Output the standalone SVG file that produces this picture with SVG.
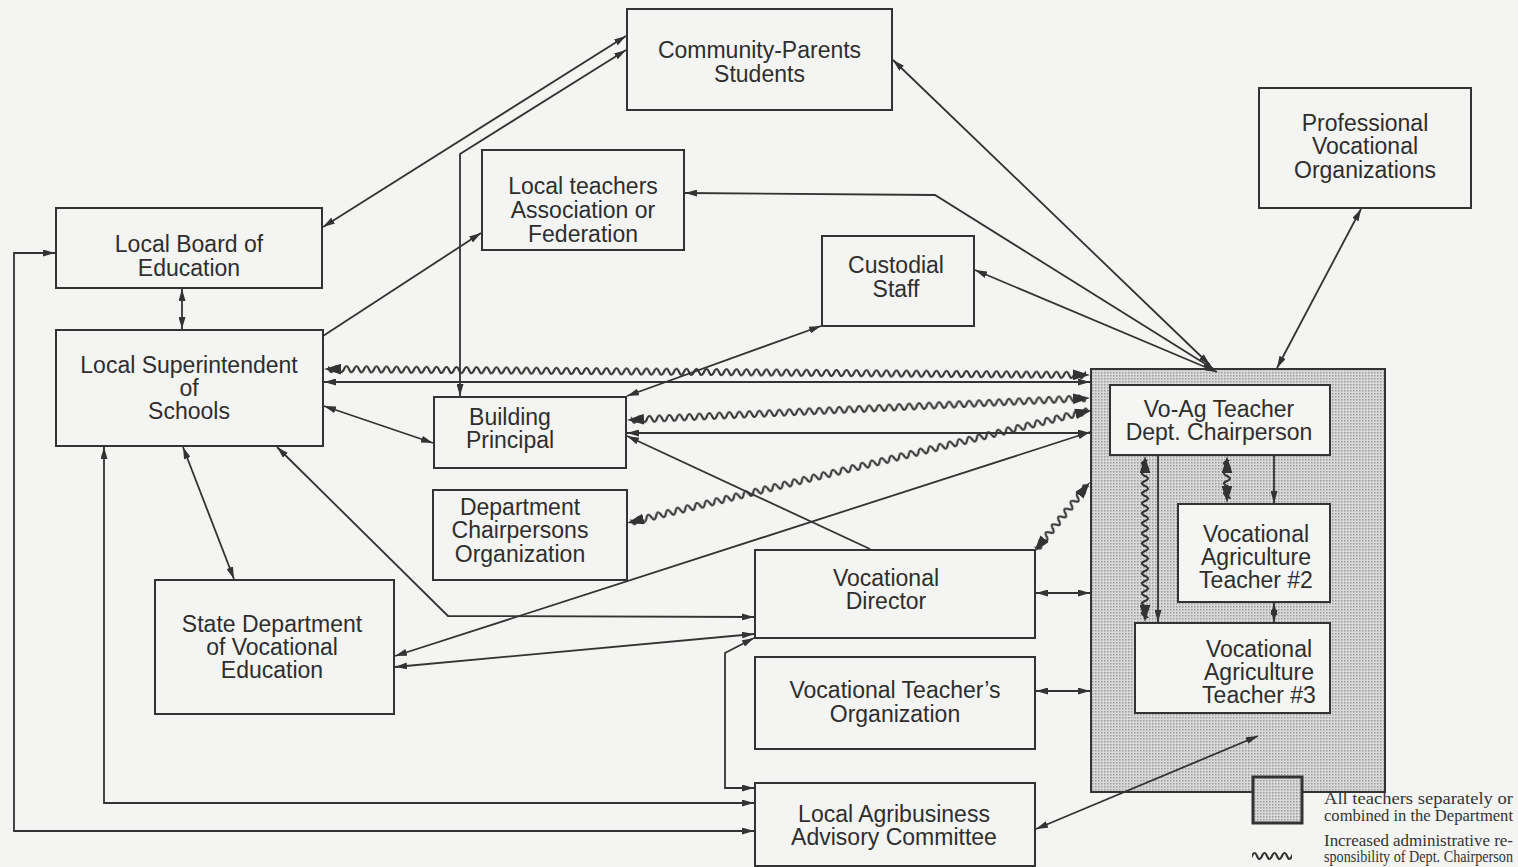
<svg xmlns="http://www.w3.org/2000/svg" width="1518" height="867" viewBox="0 0 1518 867">
<style>
.bg{fill:#f4f4f2}
.box{fill:none;stroke:#333;stroke-width:2}
.wbox{fill:#f5f5f3;stroke:#333;stroke-width:2}
.t{font-family:"Liberation Sans",Arial,sans-serif;font-size:23px;fill:#2e2e2e;text-anchor:middle}
.lg{font-family:"Liberation Serif","Times New Roman",serif;font-size:16.5px;fill:#333}
.c{fill:none;stroke:#333;stroke-width:1.8}
.d{marker-start:url(#a);marker-end:url(#a)}
.e{marker-end:url(#a)}
.wm{fill:none;stroke:none;marker-start:url(#A);marker-end:url(#A)}
</style>
<defs>
<marker id="a" viewBox="0 0 12 7" refX="12" refY="3.5" markerWidth="12" markerHeight="7" markerUnits="userSpaceOnUse" orient="auto-start-reverse"><path d="M0,0 L12,3.5 L0,7 z" fill="#333"/></marker>
<marker id="A" viewBox="0 0 16 10" refX="16" refY="5" markerWidth="17" markerHeight="11" markerUnits="userSpaceOnUse" orient="auto-start-reverse"><path d="M0,0 L16,5 L0,10 z" fill="#333"/></marker>
<pattern id="wave" width="10" height="12" patternUnits="userSpaceOnUse"><path d="M-10,6 Q-7.5,0 -5,6 T0,6 T5,6 T10,6 T15,6 T20,6" fill="none" stroke="#333" stroke-width="2.1"/></pattern>
<pattern id="dots" width="3" height="3" patternUnits="userSpaceOnUse"><rect width="3" height="3" fill="#d9d9d9"/><rect width="1.5" height="1.5" fill="#9c9c9c"/></pattern>
</defs>
<rect class="bg" x="0" y="0" width="1518" height="867"/>

<g id="department-area">
<rect x="1091" y="369" width="294" height="423" fill="url(#dots)" stroke="#333" stroke-width="2"/>
</g>
<g id="voag-chair"><rect class="wbox" x="1110" y="385" width="220" height="70"/><text class="t" x="1219" y="417">Vo-Ag Teacher</text><text class="t" x="1219" y="440">Dept. Chairperson</text></g>
<g id="teacher2"><rect class="wbox" x="1178" y="504" width="152" height="98"/><text class="t" x="1256" y="542">Vocational</text><text class="t" x="1256" y="565">Agriculture</text><text class="t" x="1256" y="588">Teacher #2</text></g>
<g id="teacher3"><rect class="wbox" x="1135" y="623" width="195" height="90"/><text class="t" x="1259" y="657">Vocational</text><text class="t" x="1259" y="680">Agriculture</text><text class="t" x="1259" y="703">Teacher #3</text></g>

<g id="community"><rect class="box" x="627" y="9" width="265" height="101"/><text class="t" x="759.5" y="58">Community-Parents</text><text class="t" x="759.5" y="82">Students</text></g>
<g id="association"><rect class="box" x="482" y="150" width="202" height="100"/><text class="t" x="583" y="194">Local teachers</text><text class="t" x="583" y="218">Association or</text><text class="t" x="583" y="242">Federation</text></g>
<g id="local-board"><rect class="box" x="56" y="208" width="266" height="80"/><text class="t" x="189" y="252">Local Board of</text><text class="t" x="189" y="276">Education</text></g>
<g id="superintendent"><rect class="box" x="56" y="330" width="267" height="116"/><text class="t" x="189" y="373">Local Superintendent</text><text class="t" x="189" y="396">of</text><text class="t" x="189" y="419">Schools</text></g>
<g id="custodial"><rect class="box" x="822" y="236" width="152" height="90"/><text class="t" x="896" y="273">Custodial</text><text class="t" x="896" y="297">Staff</text></g>
<g id="professional"><rect class="box" x="1259" y="88" width="212" height="120"/><text class="t" x="1365" y="131">Professional</text><text class="t" x="1365" y="154">Vocational</text><text class="t" x="1365" y="178">Organizations</text></g>
<g id="building-principal"><rect class="box" x="434" y="397" width="192" height="71"/><text class="t" x="510" y="425">Building</text><text class="t" x="510" y="448">Principal</text></g>
<g id="dept-chairpersons"><rect class="box" x="433" y="490" width="194" height="90"/><text class="t" x="520" y="515">Department</text><text class="t" x="520" y="538">Chairpersons</text><text class="t" x="520" y="562">Organization</text></g>
<g id="state-dept"><rect class="box" x="155" y="580" width="239" height="134"/><text class="t" x="272" y="632">State Department</text><text class="t" x="272" y="655">of Vocational</text><text class="t" x="272" y="678">Education</text></g>
<g id="voc-director"><rect class="box" x="755" y="550" width="280" height="88"/><text class="t" x="886" y="586">Vocational</text><text class="t" x="886" y="609">Director</text></g>
<g id="voc-teachers-org"><rect class="box" x="755" y="657" width="280" height="92"/><text class="t" x="895" y="698">Vocational Teacher’s</text><text class="t" x="895" y="722">Organization</text></g>
<g id="agribusiness"><rect class="box" x="755" y="783" width="280" height="83"/><text class="t" x="894" y="822">Local Agribusiness</text><text class="t" x="894" y="845">Advisory Committee</text></g>

<g id="connectors">
<path class="c d" d="M323,227 L626,36"/>
<path class="c d" d="M626,50 L460,154 L460,396"/>
<path class="c e" d="M323,336 L481,233"/>
<path class="c d" d="M182,289 L182,329"/>
<path class="c d" d="M324,382 L1090,382"/>
<path class="c d" d="M627,396 L821,326"/>
<path class="c d" d="M627,433 L1090,433"/>
<path class="c e" d="M870,549 L627,436"/>
<path class="c d" d="M1090,432 L395,656"/>
<path class="c d" d="M1036,593 L1090,593"/>
<path class="c d" d="M1036,691 L1090,691"/>
<path class="c d" d="M1258,736 L1036,829"/>
<path class="c d" d="M1361,209 L1277,368"/>
<path class="c d" d="M893,60 L1210,365"/>
<path class="c d" d="M685,193 L935,195 L1215,370"/>
<path class="c d" d="M975,270 L1217,372"/>
<path class="c d" d="M324,406 L433,443"/>
<path class="c d" d="M183,447 L234,579"/>
<path class="c d" d="M277,447 L448,616 L754,617"/>
<path class="c d" d="M395,667 L754,634"/>
<path class="c d" d="M754,788 L725,788 L725,653 L754,638"/>
<path class="c d" d="M104,447 L104,803 L754,803"/>
<path class="c d" d="M55,253 L14,253 L14,831 L754,831"/>
<path class="c e" d="M1158,456 L1158,622"/>
<path class="c e" d="M1274,456 L1274,503"/>
<path class="c d" d="M1274,603 L1274,622"/>

<g transform="translate(324,369) rotate(0.449) translate(0,-6)"><rect x="4" y="0" width="758" height="12" fill="url(#wave)"/></g>
<path class="wm" d="M324,369 L1090,375"/>
<g transform="translate(627,420) rotate(-2.72) translate(0,-6)"><rect x="4" y="0" width="455.5" height="12" fill="url(#wave)"/></g>
<path class="wm" d="M627,420 L1090,398"/>
<g transform="translate(627,523) rotate(-13.66) translate(0,-6)"><rect x="4" y="0" width="470.5" height="12" fill="url(#wave)"/></g>
<path class="wm" d="M627,523 L1092,410"/>
<g transform="translate(1034,552) rotate(-51.34) translate(0,-6)"><rect x="4" y="0" width="81.6" height="12" fill="url(#wave)"/></g>
<path class="wm" d="M1034,552 L1090,482"/>
<g transform="translate(1145,456) rotate(90) translate(0,-6)"><rect x="4" y="0" width="158" height="12" fill="url(#wave)"/></g>
<path class="wm" d="M1145,456 L1145,622"/>
<g transform="translate(1227,456) rotate(90) translate(0,-6)"><rect x="4" y="0" width="39" height="12" fill="url(#wave)"/></g>
<path class="wm" d="M1227,456 L1227,503"/>
</g>

<g id="legend">
<rect x="1253" y="777" width="49" height="46" fill="url(#dots)" stroke="#333" stroke-width="3"/>
<text class="lg" x="1324" y="804" textLength="189" lengthAdjust="spacingAndGlyphs">All teachers separately or</text>
<text class="lg" x="1324" y="821" textLength="189" lengthAdjust="spacingAndGlyphs">combined in the Department</text>
<text class="lg" x="1324" y="846" textLength="189" lengthAdjust="spacingAndGlyphs">Increased administrative re-</text>
<text class="lg" x="1324" y="862" textLength="189" lengthAdjust="spacingAndGlyphs">sponsibility of Dept. Chairperson</text>
<g transform="translate(1252,856) translate(0,-6)"><rect x="0" y="0" width="40" height="12" fill="url(#wave)"/></g>
</g>
</svg>
